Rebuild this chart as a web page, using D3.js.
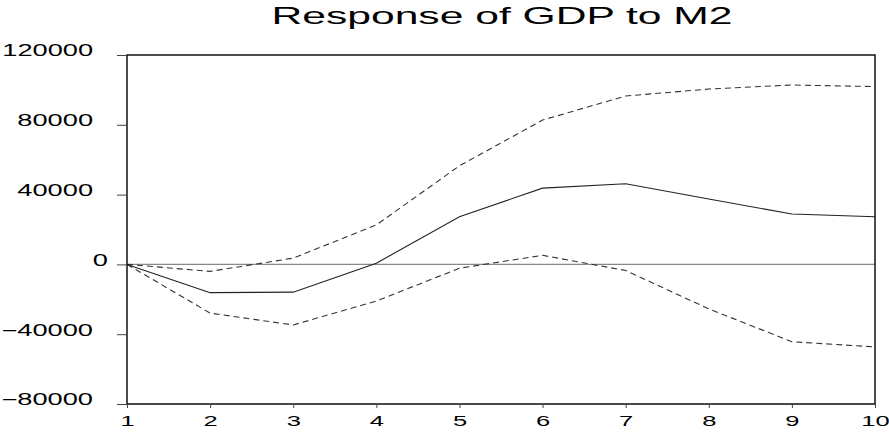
<!DOCTYPE html>
<html lang="en">
<head>
<meta charset="utf-8">
<title>Response of GDP to M2</title>
<script src="https://d3js.org/d3.v7.min.js"></script>
<style>
  body { margin: 0; background: #fff; }
  text { font-family: Arial, "Liberation Sans", sans-serif; fill: #000; }
</style>
</head>
<body>
<div id="chart"></div>
<script>
// data
var periods = [1, 2, 3, 4, 5, 6, 7, 8, 9, 10];
var response = [0, -16200, -15900, 700, 27300, 43700, 46200, 37500, 28900, 27300];
var upperBand = [0, -4000, 3600, 22600, 56500, 82700, 96500, 100500, 102800, 101900];
var lowerBand = [0, -27900, -34700, -21000, -2200, 5200, -3500, -25500, -44300, -47300];
var yTicks = [-80000, -40000, 0, 40000, 80000, 120000];

var W = 889, H = 438;
var margin = {top: 55, right: 14, bottom: 34, left: 127};
var width = W - margin.left - margin.right,
    height = H - margin.top - margin.bottom;
var stretch = 1.7;   // the original text is drawn wide

var svg = d3.select("#chart").append("svg")
    .attr("width", W)
    .attr("height", H);

var g = svg.append("g")
    .attr("transform", "translate(" + margin.left + "," + margin.top + ")");

var x = d3.scaleLinear().domain([1, 10]).range([0, width]);
var y = d3.scaleLinear().domain([-80000, 120000]).range([height, 0]);

// widen a text element horizontally
function widen(sel) {
  sel.each(function() {
    var len = this.getComputedTextLength();
    d3.select(this)
      .attr("textLength", len * stretch)
      .attr("lengthAdjust", "spacingAndGlyphs");
  });
}

// zero line
g.append("line")
    .attr("x1", 0).attr("x2", width)
    .attr("y1", y(0)).attr("y2", y(0))
    .attr("stroke", "#888").attr("stroke-width", 1.2);

var line = d3.line()
    .x(function(d, i) { return x(periods[i]); })
    .y(function(d) { return y(d); });

g.append("path").datum(upperBand)
    .attr("d", line).attr("fill", "none")
    .attr("stroke", "#333").attr("stroke-width", 1.1)
    .attr("stroke-dasharray", "6,4");

g.append("path").datum(lowerBand)
    .attr("d", line).attr("fill", "none")
    .attr("stroke", "#333").attr("stroke-width", 1.1)
    .attr("stroke-dasharray", "6,4");

g.append("path").datum(response)
    .attr("d", line).attr("fill", "none")
    .attr("stroke", "#222").attr("stroke-width", 1.1);

// frame
g.append("rect")
    .attr("x", 0).attr("y", 0)
    .attr("width", width).attr("height", height)
    .attr("fill", "none").attr("stroke", "#000").attr("stroke-width", 1.4);

// y axis
var yAxis = g.append("g")
    .call(d3.axisLeft(y).tickValues(yTicks).tickSize(10).tickSizeOuter(0)
            .tickFormat(d3.format("d")));
yAxis.select(".domain").remove();
yAxis.selectAll("line").attr("stroke", "#444");
yAxis.selectAll("text")
    .attr("font-size", 16)
    .attr("x", function(d) { return d === 0 ? -19 : -34; })  // the zero label sits closer in
    .attr("dy", "0.05em");
widen(yAxis.selectAll("text"));

// x axis
var xAxis = g.append("g")
    .attr("transform", "translate(0," + height + ")")
    .call(d3.axisBottom(x).tickValues(periods).tickSize(4).tickSizeOuter(0)
            .tickFormat(d3.format("d")));
xAxis.select(".domain").attr("stroke", "#444");
xAxis.selectAll("line").attr("stroke", "#444");
xAxis.selectAll("text")
    .attr("font-size", 15)
    .attr("y", 8)
    .attr("dy", "0.95em");
widen(xAxis.selectAll("text"));

// title
svg.append("text")
    .attr("x", 502).attr("y", 24)
    .attr("text-anchor", "middle")
    .attr("font-size", 24)
    .attr("textLength", 461)
    .attr("lengthAdjust", "spacingAndGlyphs")
    .text("Response of GDP to M2");
</script>
</body>
</html>
